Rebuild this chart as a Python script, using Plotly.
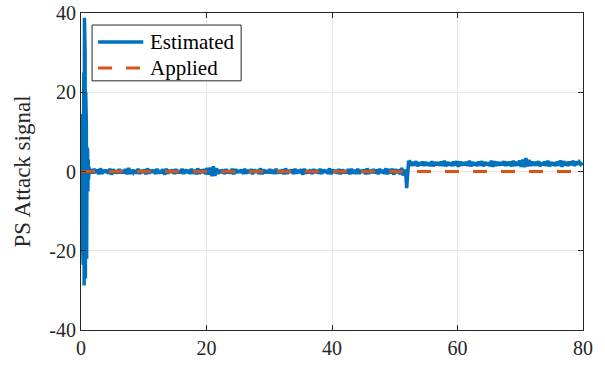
import numpy as np
import plotly.graph_objects as go

# Start-up transient of the estimated attack signal
spike_t = [0.15, 0.2, 0.25, 0.3, 0.35, 0.4, 0.45, 0.5, 0.55, 0.6, 0.65, 0.7,
           0.75, 0.8, 0.85, 0.9, 0.95, 1.0, 1.05, 1.1, 1.15, 1.2, 1.3, 1.4]
spike_v = [0.0, 14.5, -18.0, 10.0, -23.5, 5.0, 25.0, -28.8, 38.8, -20.0, 30.0,
           -27.0, 20.0, -15.0, 12.0, -22.0, 6.0, -8.0, 5.5, -5.0, 3.0, -2.0, 1.0, -0.6]

# Quiet stretch before the attack onset (t = 1.6 ... 51.6, step 0.25)
pre_t0, pre_dt = 1.6, 0.25
pre_v = [
    0.6, -0.5, 0.7, -0.4, 0.5, -0.7, 0.8, -0.6, 0.4, -0.3, 0.4, -0.5, 0.7, -0.8, 0.6, -0.4, 0.3, -0.5, 0.6, -0.4,
    0.3, -0.4, 0.6, -0.7, 0.9, -0.6, 0.4, -0.3, 0.3, -0.5, 0.7, -0.6, 0.4, -0.4, 0.5, -0.7, 0.8, -0.5, 0.4, -0.3,
    0.4, -0.6, 0.7, -0.5, 0.3, -0.4, 0.6, -0.8, 0.7, -0.5, 0.4, -0.3, 0.5, -0.6, 0.6, -0.4, 0.3, -0.4, 0.7, -0.6,
    0.5, -0.4, 0.4, -0.6, 0.7, -0.5, 0.4, -0.7, 0.8, -0.6, 0.5, -0.4, 0.6, -0.7, 0.9, -0.8, 1.0, -1.2, 1.3, -1.1,
    0.8, -0.6, 0.4, -0.4, 0.5, -0.6, 0.6, -0.4, 0.3, -0.5, 0.7, -0.7, 0.6, -0.4, 0.4, -0.3, 0.5, -0.6, 0.7, -0.5,
    0.4, -0.4, 0.6, -0.7, 0.5, -0.3, 0.4, -0.6, 0.8, -0.7, 0.5, -0.4, 0.3, -0.4, 0.6, -0.5, 0.4, -0.6, 0.7, -0.5,
    0.3, -0.4, 0.5, -0.7, 0.8, -0.6, 0.4, -0.3, 0.5, -0.6, 0.7, -0.5, 0.4, -0.4, 0.6, -0.8, 0.7, -0.5, 0.3, -0.4,
    0.5, -0.6, 0.6, -0.4, 0.4, -0.5, 0.7, -0.6, 0.5, -0.3, 0.4, -0.6, 0.8, -0.7, 0.5, -0.4, 0.4, -0.5, 0.6, -0.7,
    0.5, -0.4, 0.3, -0.4, 0.6, -0.7, 0.7, -0.5, 0.4, -0.6, 0.7, -0.6, 0.4, -0.3, 0.5, -0.7, 0.8, -0.6, 0.4, -0.4,
    0.6, -0.5, 0.5, -0.7, 0.7, -0.4, 0.4, -0.6, 0.8, -0.7, 0.6, -0.5, 0.7, -0.8, 0.6, -0.4, 0.5, -0.7, 0.9, -1.0,
    0.5,
]

# Attack onset around t = 52
step_t = [51.8, 51.9, 52.0, 52.1, 52.2]
step_v = [-1.5, -4.2, -1.0, 1.8, 2.4]

# Biased stretch after the onset (t = 52.4 ... 80.0, step 0.25)
post_t0, post_dt = 52.4, 0.25
post_v = [
    2.5, 1.4, 2.4, 1.5, 2.6, 1.3, 2.3, 1.6, 2.5, 1.4, 2.4, 1.5, 2.3, 1.4, 2.6, 1.3, 2.4, 1.6, 2.3, 1.5,
    2.5, 1.4, 2.7, 1.3, 2.4, 1.5, 2.3, 1.4, 2.5, 1.5, 2.6, 1.2, 2.5, 1.5, 2.3, 1.6, 2.4, 1.4, 2.7, 1.3,
    2.4, 1.5, 2.3, 1.4, 2.5, 1.5, 2.6, 1.3, 2.4, 1.6, 2.3, 1.4, 2.7, 1.2, 2.6, 1.4, 2.4, 1.5, 2.3, 1.6,
    2.6, 1.4, 2.4, 1.5, 2.5, 1.3, 2.7, 1.4, 2.4, 1.5, 2.8, 1.2, 3.0, 1.1, 3.4, 1.3, 2.9, 1.4, 2.5, 1.5,
    2.4, 1.5, 2.6, 1.3, 2.3, 1.6, 2.5, 1.4, 2.7, 1.3, 2.4, 1.5, 2.3, 1.4, 2.5, 1.5, 2.8, 1.2, 2.6, 1.5,
    2.4, 1.4, 2.5, 1.6, 2.7, 1.4, 2.5, 1.7, 2.4, 1.8, 2.3,
]

applied_t = [0, 80]
applied_v = [0, 0]

x_ticks = [0, 20, 40, 60, 80]
y_ticks = [-40, -20, 0, 20, 40]
y_tick_text = ["-40", "-20", "0", "20", "40"]

series_names = ["Estimated", "Applied"]
series_colors = ["#0072BD", "#D95319"]

pre_t = pre_t0 + pre_dt * np.arange(len(pre_v))
post_t = post_t0 + post_dt * np.arange(len(post_v))
est_t = np.concatenate([spike_t, pre_t, step_t, post_t])
est_v = np.concatenate([spike_v, pre_v, step_v, post_v])

FONT = "Liberation Serif, DejaVu Serif, serif"
DASH = "14px,14px"

fig = go.Figure()
fig.add_trace(go.Scatter(
    x=est_t, y=est_v, mode="lines", name=series_names[0],
    line=dict(color=series_colors[0], width=3.5), showlegend=False,
))
fig.add_trace(go.Scatter(
    x=applied_t, y=applied_v, mode="lines", name=series_names[1],
    line=dict(color=series_colors[1], width=3, dash=DASH), showlegend=False,
))

axis_common = dict(
    showline=True, linecolor="#262626", linewidth=1, mirror="ticks",
    ticks="inside", ticklen=5, tickcolor="#262626",
    showgrid=True, gridcolor="#E6E6E6", gridwidth=1, zeroline=False,
    tickfont=dict(family=FONT, size=20, color="#262626"),
    automargin=False,
)

fig.update_xaxes(range=[0, 80], tickvals=x_ticks, **axis_common)
fig.update_yaxes(range=[-40, 40], tickvals=y_ticks, ticktext=y_tick_text,
                 title=dict(text="PS Attack signal", font=dict(family=FONT, size=23, color="#262626"),
                            standoff=12),
                 **axis_common)

# Boxed legend in the upper-left corner of the axes (paper coordinates)
box_x0, box_x1, box_y0, box_y1 = 0.022, 0.319, 0.786, 0.962
key_x0, key_x1, label_x = 0.034, 0.124, 0.134
row_y = [0.9085, 0.8265]
row_dash = ["solid", DASH]
row_width = [3.5, 3]

shapes = [dict(type="rect", xref="paper", yref="paper",
               x0=box_x0, x1=box_x1, y0=box_y0, y1=box_y1,
               line=dict(color="#262626", width=1), fillcolor="white", layer="above")]
annotations = []
for name, color, yy, dash, w in zip(series_names, series_colors, row_y, row_dash, row_width):
    shapes.append(dict(type="line", xref="paper", yref="paper",
                       x0=key_x0, x1=key_x1, y0=yy, y1=yy,
                       line=dict(color=color, width=w, dash=dash), layer="above"))
    annotations.append(dict(xref="paper", yref="paper", x=label_x, y=yy,
                            text=name, showarrow=False, xanchor="left", yanchor="middle",
                            font=dict(family=FONT, size=21, color="#000000")))

fig.update_layout(
    width=605, height=367,
    margin=dict(l=81, r=22, t=13, b=37),
    paper_bgcolor="white", plot_bgcolor="white",
    font=dict(family=FONT, size=20, color="#000000"),
    shapes=shapes, annotations=annotations,
    showlegend=False,
)

fig.write_html("out.html")
